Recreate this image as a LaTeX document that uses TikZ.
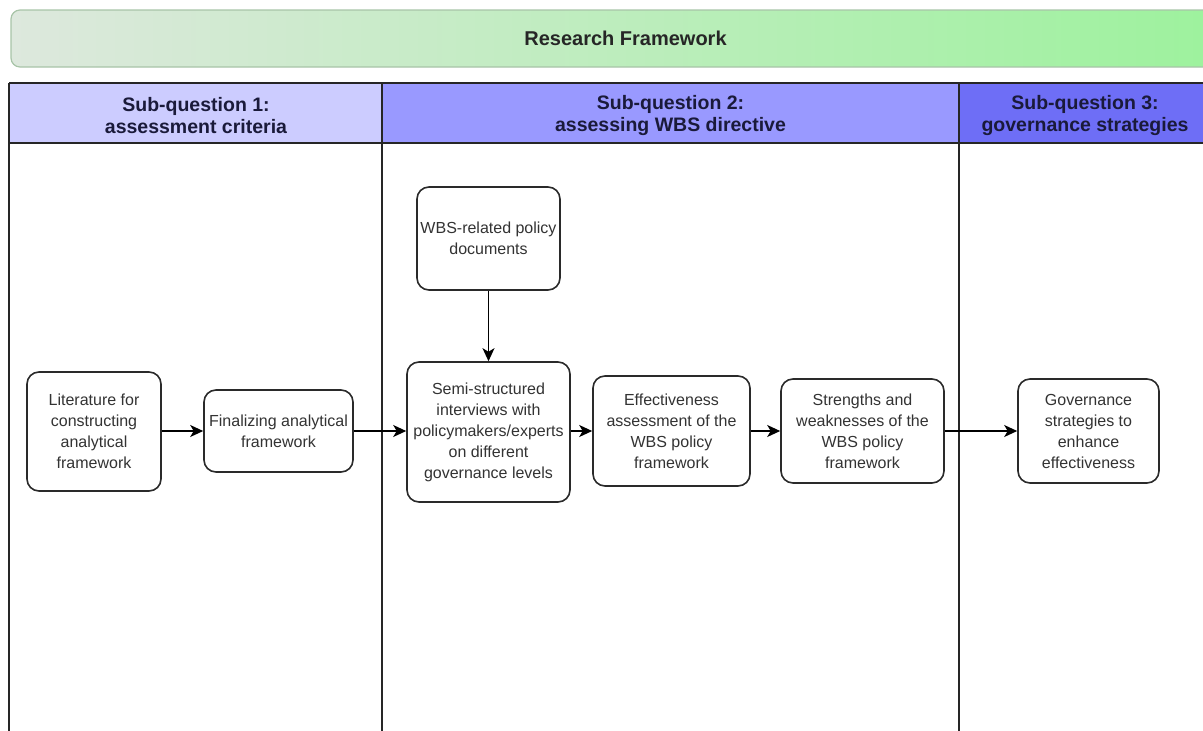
\documentclass[tikz,border=0pt]{standalone}
\usepackage{fontspec}
\setmainfont{Liberation Sans}
\usetikzlibrary{arrows.meta}
\definecolor{bannerL}{HTML}{DDE8DD}
\definecolor{bannerR}{HTML}{9CF29C}
\definecolor{bannerline}{HTML}{A8C4A8}
\definecolor{hA}{HTML}{CCCCFF}
\definecolor{hB}{HTML}{9999FF}
\definecolor{hC}{HTML}{6E6EF6}
\definecolor{hdrtext}{HTML}{1A1A3A}
\definecolor{boxline}{HTML}{2A2A2A}
\definecolor{boxtext}{HTML}{333333}
\begin{document}
\begin{tikzpicture}[x=1pt,y=-1pt,
  box/.style={draw=boxline,line width=1.6pt,rounded corners=12pt,fill=white,align=center,inner sep=0pt,font=\fontsize{16}{21}\selectfont,text=boxtext},
  hdr/.style={align=center,font=\bfseries\fontsize{19.5}{22}\selectfont,text=hdrtext,inner sep=0pt},
  conn/.style={line width=1.5pt,draw=black,-{Stealth[length=13pt,width=12pt,inset=3.5pt]}},
  rule/.style={line width=1.3pt,draw=black!85}]
\useasboundingbox (0,0) rectangle (1203,731);
% banner
\shade[left color=bannerL,right color=bannerR,rounded corners=9pt] (11,10) rectangle (1240,67);
\draw[bannerline,line width=1.2pt,rounded corners=9pt] (11,10) rectangle (1240,67);
\node[font=\bfseries\fontsize{20}{24}\selectfont,text=black!85] (title) at (625.5,38.5) {Research Framework};
% header fills
\fill[hA] (9,83) rectangle (382,143);
\fill[hB] (382,83) rectangle (959,143);
\fill[hC] (959,83) rectangle (1215,143);
% table rules
\draw[rule] (9,83) -- (1215,83);
\draw[rule] (9,143) -- (1215,143);
\draw[rule] (9,83) -- (9,735);
\draw[rule] (382,83) -- (382,735);
\draw[rule] (959,83) -- (959,735);
% header texts
\node[hdr] (h1) at (196,115.5) {Sub-question 1:\\assessment criteria};
\node[hdr] (h2) at (670.5,115.5) {Sub-question 2:\\assessing WBS directive};
\node[hdr] (h3) at (1085,115.5) {Sub-question 3:\\governance strategies};
% boxes
\node[box,minimum width=134pt,minimum height=119pt] (lit) at (94,431.5) {Literature for\\constructing\\analytical\\framework};
\node[box,minimum width=149pt,minimum height=82pt] (fin) at (278.5,431) {Finalizing analytical\\framework};
\node[box,minimum width=143pt,minimum height=103pt] (wbs) at (488.5,238.5) {WBS-related policy\\documents};
\node[box,minimum width=163pt,minimum height=140pt] (semi) at (488.5,432) {Semi-structured\\interviews with\\policymakers/experts\\on different\\governance levels};
\node[box,minimum width=157pt,minimum height=110pt] (eff) at (671.5,431) {Effectiveness\\assessment of the\\WBS policy\\framework};
\node[box,minimum width=163pt,minimum height=104pt] (str) at (862.5,431) {Strengths and\\weaknesses of the\\WBS policy\\framework};
\node[box,minimum width=141pt,minimum height=104pt] (gov) at (1088.5,431) {Governance\\strategies to\\enhance\\effectiveness};
% connectors
\draw[conn] (lit.east |- fin.west) -- (fin.west);
\draw[conn] (fin.east) -- (semi.west |- fin.east);
\draw[conn] (wbs.south) -- (semi.north);
\draw[conn] (semi.east |- eff.west) -- (eff.west);
\draw[conn] (eff.east) -- (str.west);
\draw[conn] (str.east) -- (gov.west);
\end{tikzpicture}
\end{document}
